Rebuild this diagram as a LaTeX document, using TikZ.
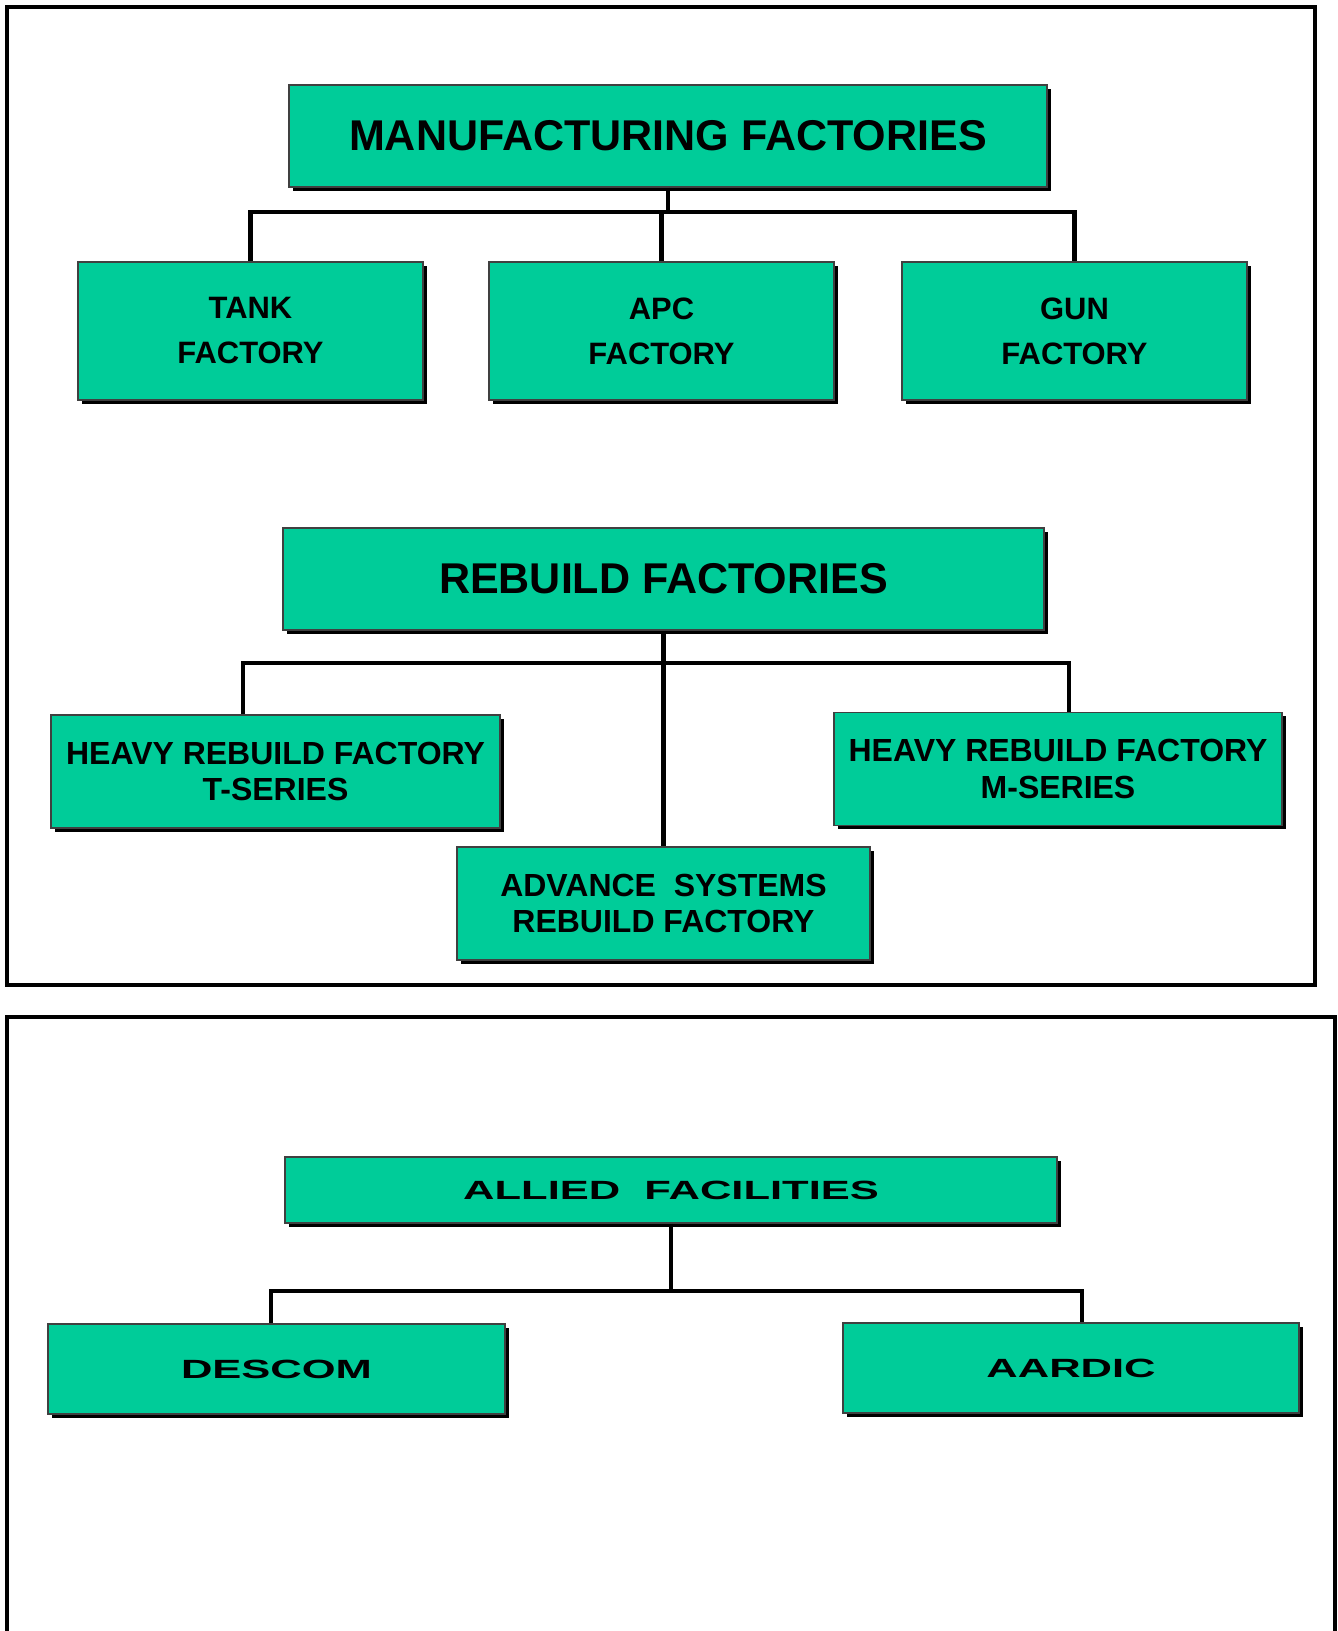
\documentclass[tikz,border=0pt]{standalone}
\usepackage{fontspec}
\setmainfont{Liberation Sans}
\usepackage{graphicx}
\usetikzlibrary{shadows}
\definecolor{boxgreen}{RGB}{0,204,153}
\newcommand{\widetxt}[1]{\scalebox{1.65}[1]{#1}}

\begin{document}
\begin{tikzpicture}[
  font=\bfseries,
  box/.style={draw=black!75,line width=0.6pt,fill=boxgreen,align=center,
    inner sep=2pt,drop shadow={shadow xshift=0.07cm,shadow yshift=-0.07cm,
      fill=black,opacity=1}},
  headbox/.style={box,minimum height=2.04cm,
    font=\bfseries\fontsize{24.5}{29}\selectfont},
  unitbox/.style={box,minimum width=6.9cm,minimum height=2.76cm,
    font=\bfseries\fontsize{17.6}{25.6}\selectfont},
  rebox/.style={box,minimum height=2.26cm,
    font=\bfseries\fontsize{18.2}{21}\selectfont},
  widebox/.style={box,font=\bfseries\fontsize{15}{18}\selectfont},
  link/.style={line width=2.4pt},
  frame/.style={line width=1.9pt}
]
  \useasboundingbox (0,0) rectangle (26.76,-32.62);

  % page frames
  \draw[frame] (0.14,-0.14) rectangle (26.30,-19.70);
  \draw[frame] (0.14,-32.62) -- (0.14,-20.34) -- (26.70,-20.34) -- (26.70,-32.62);

  % manufacturing
  \node[headbox,minimum width=15.16cm] (manuf) at (13.36,-2.72)
    {MANUFACTURING FACTORIES};
  \node[unitbox] (tank) at (5.01,-6.62) {TANK\\FACTORY};
  \node[unitbox] (apc) at (13.23,-6.62) {APC\\FACTORY};
  \node[unitbox] (gun) at (21.49,-6.62) {GUN\\FACTORY};

  \coordinate (mbus) at (13.36,-4.24);
  \draw[link] (manuf.south) -- (mbus);
  \foreach \x in {tank,apc,gun} {
    \draw[link] (mbus) -| (\x.north);
  }

  % rebuild
  \node[headbox,minimum width=15.22cm] (rebuild) at (13.27,-11.58)
    {REBUILD FACTORIES};
  \node[rebox,minimum width=8.98cm] (heavyt) at (5.51,-15.43)
    {HEAVY REBUILD FACTORY\\T-SERIES};
  \node[rebox,minimum width=8.96cm] (heavym) at (21.16,-15.38)
    {HEAVY REBUILD FACTORY\\M-SERIES};
  \node[rebox,minimum width=8.26cm] (advance) at (13.27,-18.07)
    {ADVANCE~~SYSTEMS\\REBUILD FACTORY};

  \coordinate (rbusl) at (4.86,-13.26);
  \coordinate (rbusr) at (21.38,-13.26);
  \draw[link] (heavyt.north -| rbusl) -- (rbusl) -- (rbusr)
    -- (heavym.north -| rbusr);
  \draw[link] (rebuild.south) -- (advance.north);

  % allied
  \node[widebox,minimum width=15.44cm,minimum height=1.32cm] (allied)
    at (13.42,-23.80) {\widetxt{ALLIED~~FACILITIES}};
  \node[widebox,minimum width=9.14cm,minimum height=1.8cm] (descom)
    at (5.53,-27.38) {\widetxt{DESCOM}};
  \node[widebox,minimum width=9.12cm,minimum height=1.8cm] (aardic)
    at (21.42,-27.36) {\widetxt{AARDIC}};

  \coordinate (abusl) at (5.42,-25.82);
  \coordinate (abusr) at (21.64,-25.82);
  \draw[link] (allied.south) -- (allied.south |- abusl);
  \draw[link] (descom.north -| abusl) -- (abusl) -- (abusr)
    -- (aardic.north -| abusr);
\end{tikzpicture}
\end{document}
